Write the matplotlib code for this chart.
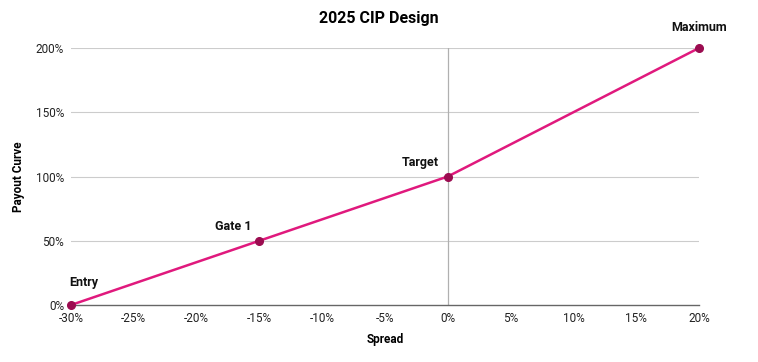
import matplotlib
matplotlib.use("Agg")
import matplotlib.pyplot as plt
from matplotlib.ticker import FuncFormatter

spread = [-30, -15, 0, 20]
payout = [0, 50, 100, 200]
point_labels = ["Entry", "Gate 1", "Target", "Maximum"]
x_ticks = [-30, -25, -20, -15, -10, -5, 0, 5, 10, 15, 20]
y_ticks = [0, 50, 100, 150, 200]

plt.rcParams['font.family'] = ['Roboto', 'DejaVu Sans']

fig = plt.figure(figsize=(7.58, 3.62), dpi=100)
ax = fig.add_axes([71/758, 1-305/362, (699-71)/758, (305-48)/362])

ax.set_xlim(-30, 20)
ax.set_ylim(0, 200)
ax.set_xticks(x_ticks)
ax.set_yticks(y_ticks)
ax.xaxis.set_major_formatter(FuncFormatter(lambda v, p: f"{int(v)}%"))
ax.yaxis.set_major_formatter(FuncFormatter(lambda v, p: f"{int(v)}%"))

for y in y_ticks[1:]:
    ax.axhline(y, color="#cccccc", lw=0.8, zorder=1)
ax.axvline(0, color="#b0b0b0", lw=0.9, zorder=1)

for s in ["top", "right", "left"]:
    ax.spines[s].set_visible(False)
ax.spines["bottom"].set_color("#666666")
ax.spines["bottom"].set_linewidth(1.0)
ax.tick_params(axis="both", length=0, labelsize=8.5, colors="#222222", pad=5)

ax.plot(spread, payout, color="#e0197d", lw=1.8, zorder=3, clip_on=False)
ax.plot(spread, payout, 'o', color="#9b0c50", ms=5.5, zorder=4, clip_on=False)

offsets = {"Entry": (9, 16), "Gate 1": (-19, 10), "Target": (-20, 10), "Maximum": (0, 14.5)}
for x, y, lab in zip(spread, payout, point_labels):
    dx, dy = offsets[lab]
    ax.annotate(lab, (x, y), xytext=(dx, dy), textcoords="offset points",
                ha="center", va="center", fontsize=9, fontweight="bold", color="#111111")

ax.set_xlabel("Spread", fontsize=8.5, fontweight="bold", labelpad=6)
ax.set_ylabel("Payout Curve", fontsize=8.5, fontweight="bold", labelpad=8)
fig.text(0.5, 1-19/362, "2025 CIP Design", ha="center", va="center", fontsize=11.5, fontweight="bold")

fig.savefig("out.png", dpi=100)
